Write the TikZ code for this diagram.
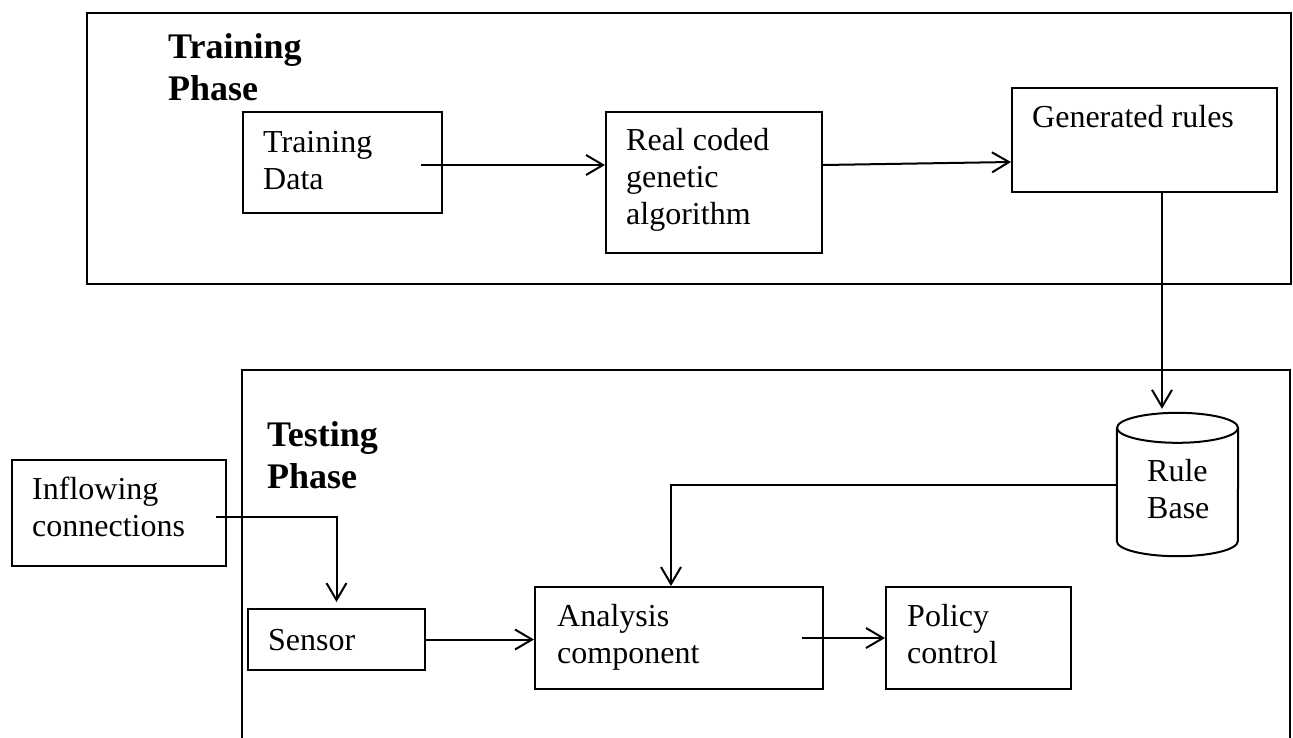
\documentclass[tikz,border=0pt]{standalone}
\usepackage{fontspec}
\setmainfont{Liberation Serif}
\usetikzlibrary{arrows.meta,calc}
\begin{document}
\begin{tikzpicture}[x=1pt,y=-1pt,
  box/.style={draw,line width=2pt,inner sep=0pt,anchor=north west},
  % multi-line labels are placed by the baseline of their last line
  lbl/.style={anchor=base west,inner sep=0pt,align=left,font=\fontsize{32}{37}\selectfont},
  head/.style={anchor=base west,inner sep=0pt,align=left,font=\bfseries\fontsize{36}{42}\selectfont},
  frame/.style={line width=2pt},
  arr/.style={line width=2pt,-{Straight Barb[length=17pt,width=20pt]}}]
\useasboundingbox (0,0) rectangle (1293,737);
\clip (0,0) rectangle (1293,737);

% phase frames
\draw[frame] (87,13) rectangle (1291,284);
\draw[frame] (242,760) |- (1290,370) -- (1290,760);
\node[head] (trainhead) at (168,100) {Training\\Phase};
\node[head] (testhead) at (267,488) {Testing\\Phase};

% training phase blocks
\node[box,minimum width=199pt,minimum height=101pt] (td) at (242,111) {};
\node[box,minimum width=216pt,minimum height=141pt] (rc) at (605,111) {};
\node[box,minimum width=265pt,minimum height=104pt] (gr) at (1011,87) {};
\node[lbl] (tdtext) at (263,189) {Training\\Data};
\node[lbl] (rctext) at (626,224) {Real coded\\genetic\\algorithm};
\node[lbl] (grtext) at (1032,127) {Generated rules};

% testing phase blocks
\node[box,minimum width=214pt,minimum height=106pt] (inf) at (11,459) {};
\node[box,minimum width=177pt,minimum height=61pt] (se) at (247,608) {};
\node[box,minimum width=288pt,minimum height=102pt] (an) at (534,586) {};
\node[box,minimum width=185pt,minimum height=102pt] (po) at (885,586) {};
\node[lbl] (inftext) at (32,536) {Inflowing\\connections};
\node[lbl] (setext) at (268,650) {Sensor};
\node[lbl] (antext) at (557,663) {Analysis\\component};
\node[lbl] (potext) at (907,663) {Policy\\control};

% rule base cylinder
\node[minimum width=121pt,minimum height=143pt,inner sep=0pt] (rb) at (1177.5,484.5) {};
\draw[frame] ([yshift=-15pt]rb.north) ellipse [x radius=60.5pt,y radius=15pt];
\draw[frame] ([yshift=-15pt]rb.north west) -- ([yshift=15pt]rb.south west)
  arc[start angle=180,end angle=360,x radius=60.5pt,y radius=15pt]
  -- ([yshift=-15pt]rb.north east);
\node[lbl] (rbtext) at (1147,518) {Rule\\Base};

% connectors
\coordinate (a1) at ([xshift=-22pt,yshift=-2.5pt]td.east);
\draw[arr] (a1) -- (a1 -| rc.west);
\draw[arr] (a1 -| rc.east) -- ([yshift=-22pt]gr.west);
\coordinate (a3) at ([xshift=17.5pt]gr.south);
\draw[arr,shorten >=4pt] (a3) -- (a3 |- rb.north);
\draw[arr] (rb.west) -| ([xshift=-8pt]an.north);
\draw[arr,shorten >=6pt] ([xshift=-11pt,yshift=-4pt]inf.east) -| (se.north);
\draw[arr] (se.east) -- (se.east -| an.west);
\draw[arr] ([xshift=-22pt]an.east) -- (po.west);
\end{tikzpicture}
\end{document}
